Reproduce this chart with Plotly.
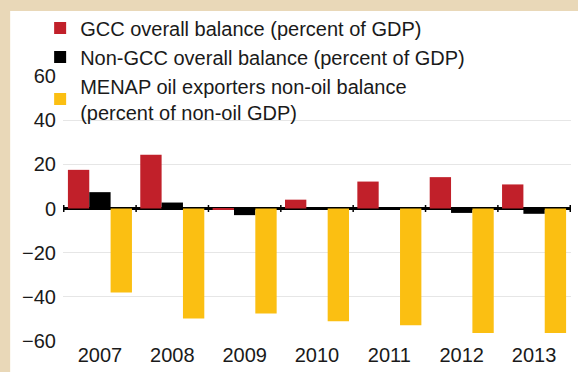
import plotly.graph_objects as go

years = ["2007", "2008", "2009", "2010", "2011", "2012", "2013"]
gcc_overall = [17.5, 24.3, -0.5, 4.0, 12.2, 14.2, 10.9]
non_gcc_overall = [7.4, 2.7, -3.0, 0.0, 0.0, -2.0, -2.4]
menap_non_oil = [-38.0, -49.8, -47.5, -51.0, -52.9, -56.4, -56.4]

series_names = [
    "GCC overall balance (percent of GDP)",
    "Non-GCC overall balance (percent of GDP)",
    "MENAP oil exporters non-oil balance<br>(percent of non-oil GDP)",
]
series_colors = ["#C1202A", "#000000", "#FBBF12"]
y_ticks = [-60, -40, -20, 0, 20, 40, 60]

FONT = "Liberation Sans, Arial, sans-serif"

fig = go.Figure()
for name, vals, col in zip(series_names, [gcc_overall, non_gcc_overall, menap_non_oil], series_colors):
    fig.add_trace(go.Bar(x=years, y=vals, name=name, marker=dict(color=col, line=dict(width=0))))

# white panel on beige paper
fig.add_shape(type="rect", xref="paper", yref="paper", x0=-0.104, x1=1.2, y0=-0.3, y1=1.245,
              fillcolor="white", line=dict(width=0), layer="below")

# small ticks on the zero line at category boundaries
for i in range(len(years) + 1):
    fig.add_shape(type="line", xref="x", yref="y", x0=i - 0.5, x1=i - 0.5, y0=-1.6, y1=1.6,
                  line=dict(color="black", width=1.5))

fig.update_layout(
    width=578, height=372,
    margin=dict(l=63, r=7, t=76, b=31, autoexpand=False),
    paper_bgcolor="#E9D8B8",
    plot_bgcolor="white",
    barmode="group",
    bargap=0.115,
    bargroupgap=0,
    font=dict(family=FONT, size=20, color="#1a1a1a"),
    showlegend=True,
    legend=dict(x=-0.045, xanchor="left", y=1.255, yanchor="top", bgcolor="rgba(0,0,0,0)",
                font=dict(size=20, family=FONT, color="#1a1a1a"), traceorder="normal",
                itemwidth=30, tracegroupgap=0),
    xaxis=dict(type="category", showgrid=False, ticks="", showline=False,
               tickfont=dict(size=20)),
    yaxis=dict(range=[-60, 60], tickvals=y_ticks, showgrid=True, gridcolor="#E6E6E6", gridwidth=1,
               zeroline=True, zerolinecolor="black", zerolinewidth=3, showline=False,
               ticklabelstandoff=6, tickfont=dict(size=20)),
)

fig.write_html("out.html", config={"displayModeBar": False},
               post_script="document.body.style.margin='0';document.body.style.overflow='hidden';")
